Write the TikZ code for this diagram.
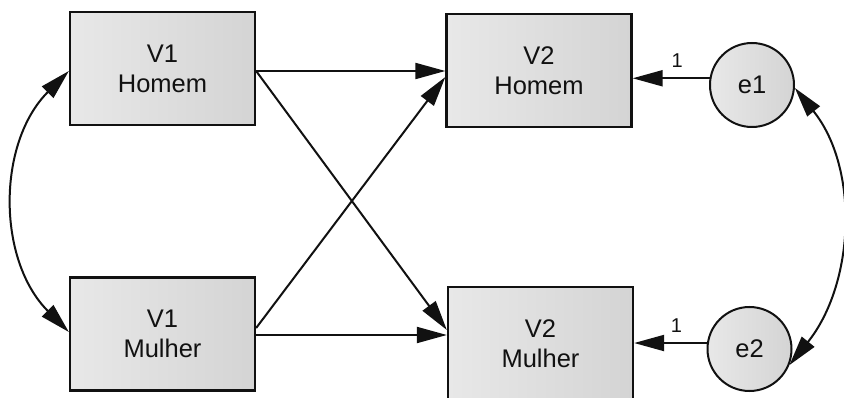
\documentclass[tikz,border=0pt]{standalone}
\usepackage{fontspec}
\setmainfont{Liberation Sans}
\usetikzlibrary{arrows.meta,calc}
\definecolor{boxlight}{HTML}{E8E8E8}
\definecolor{boxdark}{HTML}{D4D4D4}
\definecolor{inkcol}{HTML}{111111}

\begin{document}
\begin{tikzpicture}[x=1pt,y=-1pt,
  var/.style={draw=inkcol, line width=2.3pt, left color=boxlight, right color=boxdark,
    minimum width=185pt, minimum height=113pt, align=center, inner sep=0pt,
    text=inkcol, font=\fontsize{25.5}{30}\selectfont},
  err/.style={circle, draw=inkcol, line width=2pt, left color=boxlight, right color=boxdark,
    minimum size=84pt, inner sep=0pt, text=inkcol, font=\fontsize{25.5}{30}\selectfont},
  tipshape/.tip={Triangle[length=30pt,width=16pt]},
  conn/.style={draw=inkcol, line width=2pt, -tipshape},
  cov/.style={draw=inkcol, line width=2pt, tipshape-tipshape},
  wt/.style={text=inkcol, font=\fontsize{20}{22}\selectfont, inner sep=0pt}
]
\useasboundingbox (0,0) rectangle (844,398);
\clip (0,0) rectangle (844,398);

% observed variables
\node[var] (v1h) at (162.5,68.5) {V1\\Homem};
\node[var] (v2h) at (539,70.5)   {V2\\Homem};
\node[var] (v1m) at (162.5,334)  {V1\\Mulher};
\node[var] (v2m) at (540.5,343.5) {V2\\Mulher};

% error terms
\node[err] (e1) at (752,85)    {e1};
\node[err] (e2) at (749.5,349) {e2};

% regression paths
\draw[conn] ($(v1h.east)+(0,2.5)$) -- ($(v2h.west)+(0,0.5)$);
\draw[conn] ($(v1h.east)+(0,2.5)$) -- ($(v2m.west)+(0,-13.5)$);
\draw[conn] ($(v1m.east)+(0,-6)$)  -- ($(v2h.west)+(0,6.5)$);
\draw[conn] ($(v1m.east)+(0,1)$)   -- ($(v2m.west)+(0,-8.5)$);

% error loadings
\draw[conn] (e1.171) -- (e1.171 -| v2h.east) node[wt, pos=0.42, above=10pt] {1};
\draw[conn] (e2.172) -- (e2.172 -| v2m.east) node[wt, pos=0.42, above=10pt] {1};

% covariances
\draw[cov] ($(v1h.west)+(0,2.5)$) .. controls +(-72,72) and +(-72,-72) .. ($(v1m.west)+(0,-2)$);
\draw[cov] (e1.-4) .. controls +(65,81) and +(65,-81) .. (e2.-22);
\end{tikzpicture}
\end{document}
